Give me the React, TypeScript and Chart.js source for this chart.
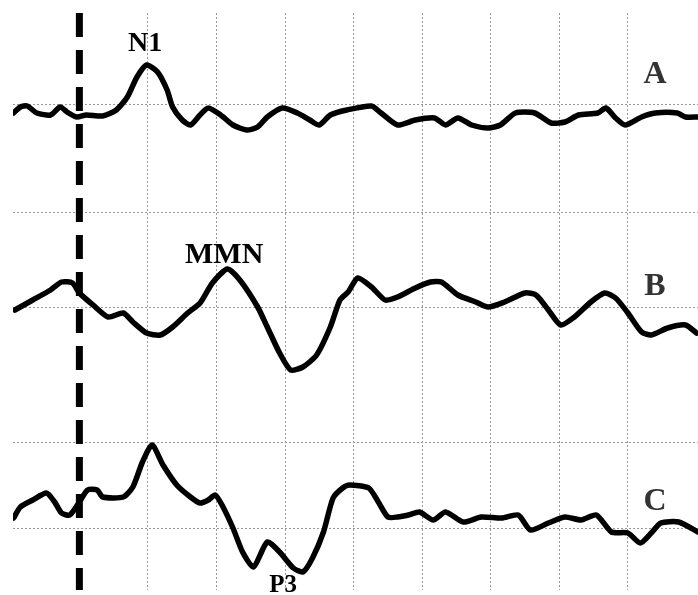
import React, { useEffect, useRef } from "react";
import { Chart, registerables } from "chart.js";

Chart.register(...registerables);

// Time in ms relative to stimulus onset, amplitude in µV (positive = up)
const timesA = [-48, -43, -38, -31, -21, -14, -9, -2, 5, 17, 27, 35, 42, 49, 57, 64, 68, 75, 81, 88, 94, 103, 112, 122, 130, 137, 148, 159, 168, 175, 183, 195, 213, 220, 232, 245, 259, 267, 276, 286, 298, 307, 318, 332, 344, 354, 364, 378, 384, 391, 398, 410, 420, 436, 442, 451];
const valuesA = [-0.8, -0.2, -0.1, -0.8, -1.0, -0.2, -0.7, -1.2, -1.0, -1.1, -0.5, 0.8, 2.8, 4.0, 3.3, 1.5, -0.2, -1.5, -2.0, -1.0, -0.3, -1.0, -2.0, -2.5, -2.2, -1.2, -0.3, -0.8, -1.5, -2.0, -1.0, -0.5, -0.1, -0.8, -2.0, -1.5, -1.3, -2.0, -1.3, -2.0, -2.3, -2.0, -0.8, -0.8, -1.8, -1.7, -1.0, -0.8, -0.3, -1.3, -2.0, -1.2, -0.8, -0.8, -1.2, -1.2];

const timesB = [-47, -34, -21, -13, -5, 0, 10, 21, 32, 39, 49, 59, 68, 79, 88, 97, 108, 117, 130, 137, 146, 154, 163, 173, 183, 190, 196, 203, 213, 223, 232, 245, 256, 264, 276, 289, 298, 310, 325, 333, 342, 351, 361, 373, 383, 391, 400, 410, 417, 429, 442, 450];
const valuesB = [-0.3, 0.7, 1.7, 2.5, 2.4, 1.4, 0.2, -1.0, -0.6, -1.5, -2.6, -2.8, -2.0, -0.6, 0.4, 2.4, 3.8, 2.7, 0.0, -2.0, -4.6, -6.3, -6.0, -4.8, -2.0, 0.7, 1.5, 2.9, 2.0, 0.7, 1.0, 1.9, 2.5, 2.5, 1.2, 0.5, 0.0, 0.5, 1.4, 1.2, -0.3, -1.8, -1.0, 0.5, 1.4, 0.9, -0.6, -2.5, -2.8, -2.1, -1.8, -2.6];

const timesC = [-48, -43, -34, -24, -18, -13, -7, 0, 6, 13, 17, 32, 39, 46, 53, 61, 71, 81, 88, 94, 99, 104, 112, 119, 127, 137, 146, 156, 163, 170, 178, 185, 192, 197, 211, 218, 225, 232, 240, 248, 258, 267, 280, 293, 308, 320, 329, 342, 354, 366, 377, 388, 400, 409, 417, 424, 437, 451];
const valuesC = [1.0, 2.1, 2.8, 3.5, 2.6, 1.5, 1.3, 2.6, 3.8, 3.8, 3.1, 3.1, 4.1, 6.6, 8.3, 6.3, 4.3, 3.1, 2.5, 2.8, 3.3, 2.3, 0.0, -2.4, -3.9, -1.4, -2.4, -4.0, -4.4, -3.0, -0.4, 3.0, 4.0, 4.3, 4.0, 2.6, 1.1, 1.1, 1.3, 1.6, 0.8, 1.6, 0.6, 1.1, 1.0, 1.3, -0.2, 0.5, 1.1, 0.8, 1.3, -0.4, -0.5, -1.5, -0.5, 0.5, 0.6, -0.4];

// Panel baselines on the shared vertical axis
const panelNames = ["A", "B", "C"];
const panelOffsets = [0, -20.2, -42.3];

// Grid
const gridTimes = [50, 100, 150, 200, 250, 300, 350, 400];
const gridLevels = [0, -10.8, -20.2, -33.8, -42.3];
const timeRange = [-48.4, 451.1];
const levelRange = [-48.5, 9.2];
const onsetTime = 0;

// Component labels: text, time, amplitude, panel index
const peakLabels = ["N1", "MMN", "P3"];
const peakTimes = [48, 105.6, 148.5];
const peakAmps = [5.4, 4.4, -6.4];
const peakPanels = [0, 1, 2];
const panelLabelTime = 419.7;
const panelLabelAmps = [2.2, 1.2, 1.8];

const toPoints = (ts: number[], vs: number[], off: number) =>
  ts.map((t, i) => ({ x: t, y: vs[i] + off }));

const labelPlugin = {
  id: "eegLabels",
  afterDatasetsDraw(chart: any) {
    const { ctx, scales } = chart;
    const xs = scales.x;
    const ys = scales.y;
    ctx.save();
    ctx.textAlign = "center";
    ctx.textBaseline = "alphabetic";
    peakLabels.forEach((txt, i) => {
      ctx.font =
        i === 0
          ? "bold 28px 'Liberation Serif'"
          : i === 1
          ? "bold 30px 'Liberation Serif'"
          : "bold 25px 'Liberation Serif'";
      ctx.fillStyle = "#000";
      ctx.fillText(
        txt,
        xs.getPixelForValue(peakTimes[i]),
        ys.getPixelForValue(peakAmps[i] + panelOffsets[peakPanels[i]])
      );
    });
    panelNames.forEach((txt, i) => {
      ctx.font = "bold 32px 'Liberation Serif'";
      ctx.fillStyle = "#333";
      ctx.fillText(
        txt,
        xs.getPixelForValue(panelLabelTime),
        ys.getPixelForValue(panelLabelAmps[i] + panelOffsets[i])
      );
    });
    ctx.restore();
  },
};

export default function App() {
  const ref = useRef<HTMLCanvasElement | null>(null);
  useEffect(() => {
    if (!ref.current) return;
    const traceStyle = {
      borderColor: "#000",
      borderWidth: 5.5,
      pointRadius: 0,
      tension: 0.22,
      borderJoinStyle: "round" as const,
      borderCapStyle: "round" as const,
      fill: false,
    };
    const chart = new Chart(ref.current, {
      type: "line",
      data: {
        datasets: [
          { ...traceStyle, label: "A", data: toPoints(timesA, valuesA, panelOffsets[0]) },
          { ...traceStyle, label: "B", data: toPoints(timesB, valuesB, panelOffsets[1]) },
          { ...traceStyle, label: "C", data: toPoints(timesC, valuesC, panelOffsets[2]) },
          {
            label: "onset",
            data: [
              { x: onsetTime, y: levelRange[1] },
              { x: onsetTime, y: levelRange[0] },
            ],
            borderColor: "#000",
            borderWidth: 7,
            borderDash: [24, 13],
            borderCapStyle: "butt",
            pointRadius: 0,
            tension: 0,
          },
        ],
      },
      options: {
        animation: false,
        responsive: false,
        events: [],
        layout: { padding: { left: 13, top: 13, right: 0, bottom: 5 } },
        plugins: { legend: { display: false }, tooltip: { enabled: false } },
        scales: {
          x: {
            type: "linear",
            min: timeRange[0],
            max: timeRange[1],
            afterBuildTicks: (s: any) => {
              s.ticks = gridTimes.map((v) => ({ value: v }));
            },
            ticks: { display: false },
            border: { display: false, dash: [2, 2] },
            grid: { color: "#999", lineWidth: 1, drawTicks: false },
          },
          y: {
            type: "linear",
            min: levelRange[0],
            max: levelRange[1],
            afterBuildTicks: (s: any) => {
              s.ticks = gridLevels.map((v) => ({ value: v }));
            },
            ticks: { display: false },
            border: { display: false, dash: [2, 2] },
            grid: { color: "#999", lineWidth: 1, drawTicks: false },
          },
        },
      },
      plugins: [labelPlugin],
    });
    return () => chart.destroy();
  }, []);
  return (
    <div style={{ position: "absolute", left: 0, top: 0, width: 698, height: 595, background: "#fff" }}>
      <canvas ref={ref} width={698} height={595} />
    </div>
  );
}
